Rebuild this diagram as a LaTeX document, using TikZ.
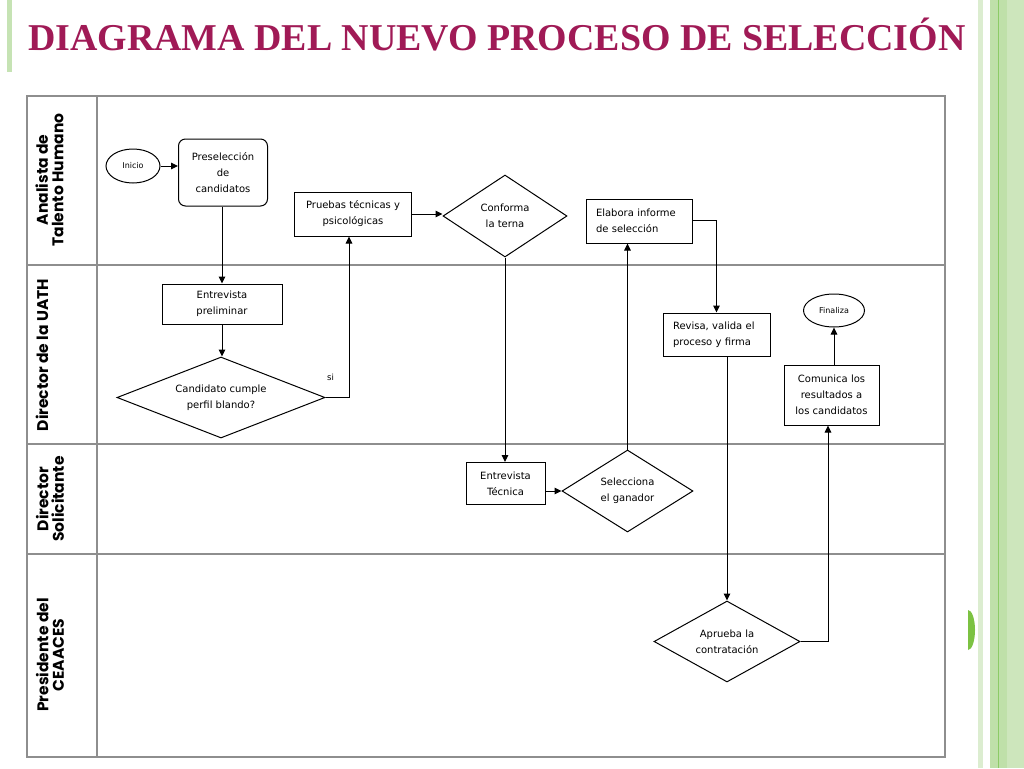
\documentclass[tikz,border=0pt]{standalone}
\usepackage{fontspec}
\setmainfont{DejaVu Sans}
\newfontfamily\lanefont{Poppins}
\newfontfamily\titlefont{Liberation Serif}
\usetikzlibrary{shapes.geometric,arrows.meta}
\definecolor{titlecol}{HTML}{A01A56}
\definecolor{gridcol}{HTML}{8E8E8E}
\definecolor{band}{HTML}{CDE6BC}
\definecolor{bandd}{HTML}{BFE0A9}
\definecolor{gline}{HTML}{8CCB66}
\definecolor{gdisc}{HTML}{7CC242}
\begin{document}
\begin{tikzpicture}[x=1pt,y=-1pt,
  txt/.style={font=\fontsize{10}{16}\selectfont, align=center, inner sep=0pt},
  procbox/.style={txt, draw=black, line width=1pt, fill=white},
  decision/.style={txt, diamond, draw=black, line width=1pt, fill=white},
  terminal/.style={ellipse, draw=black, line width=1pt, inner sep=0pt, font=\fontsize{8}{9}\selectfont},
  flow/.style={draw=black, line width=1pt, -{Triangle[length=7pt,width=6.5pt]}},
  lanelabel/.style={rotate=90, align=center, font=\lanefont\bfseries\fontsize{15.5}{15.5}\selectfont, inner sep=0pt},
  gridline/.style={draw=gridcol, line width=1.3pt}]
\useasboundingbox (0,0) rectangle (1024,768);
\fill[white] (0,0) rectangle (1024,768);
% decorations
\fill[band!70] (978,0) rectangle (983,768);
\fill[band] (990,0) rectangle (1024,768);
\fill[bandd] (990,0) rectangle (1007,768);
\draw[gline, line width=1pt] (998.5,0) -- (998.5,768);
\fill[band!90!gline] (7,0) rectangle (12,72);
\fill[gdisc] (968,650) arc[start angle=90, end angle=-90, x radius=7, y radius=20] -- cycle;
% title
\node[anchor=base west, inner sep=0pt, text=titlecol, font=\titlefont\bfseries\fontsize{37.9}{42}\selectfont] (title) at (28,50) {DIAGRAMA DEL NUEVO PROCESO DE SELECCIÓN};
% swimlane table
\draw[gridline] (27,96) rectangle (945,757);
\draw[gridline] (97,96) -- (97,757);
\draw[gridline] (27,265) -- (945,265);
\draw[gridline] (27,444) -- (945,444);
\draw[gridline] (27,554) -- (945,554);
\node[lanelabel] (l1) at (49.5,180) {Analista de\\Talento Humano};
\node[lanelabel] (l2) at (42,355) {Director de la UATH};
\node[lanelabel] (l3) at (50,499) {Director\\Solicitante};
\node[lanelabel] (l4) at (50,655) {Presidente del\\CEAACES};
% nodes
\node[terminal, minimum width=54pt, minimum height=34pt] (inicio) at (133,166) {Inicio};
\node[procbox, rounded corners=7pt, minimum width=89pt, minimum height=67pt] (presel) at (223,172.5) {Preselección\\de\\candidatos};
\node[procbox, minimum width=120pt, minimum height=40pt] (entprel) at (222,304) {Entrevista\\preliminar};
\node[decision, minimum width=208pt, minimum height=81pt, shape aspect=2.57] (cand) at (221,397.5) {Candidato cumple\\perfil blando?};
\node[procbox, minimum width=117pt, minimum height=44pt] (pruebas) at (353,214) {Pruebas técnicas y\\psicológicas};
\node[decision, minimum width=124pt, minimum height=82pt, shape aspect=1.5] (conforma) at (505,216) {Conforma\\la terna};
\node[procbox, minimum width=106pt, minimum height=44pt, align=left, text width=86pt] (elabora) at (639,221) {Elabora informe\\de selección};
\node[procbox, minimum width=107pt, minimum height=43pt, align=left, text width=87pt] (revisa) at (716.5,334.5) {Revisa, valida el\\proceso y firma};
\node[terminal, minimum width=61pt, minimum height=33pt] (fin) at (834,310.5) {Finaliza};
\node[procbox, minimum width=95pt, minimum height=60pt] (comunica) at (831.5,395) {Comunica los\\resultados a\\los candidatos};
\node[procbox, minimum width=79pt, minimum height=42pt] (enttec) at (505.5,483.5) {Entrevista\\Técnica};
\node[decision, minimum width=131pt, minimum height=82pt, shape aspect=1.6] (selec) at (627.5,491) {Selecciona\\el ganador};
\node[decision, minimum width=146pt, minimum height=81pt, shape aspect=1.8] (aprueba) at (727,641.5) {Aprueba la\\contratación};
% connectors
\draw[flow] (inicio.east) -- (inicio.east -| presel.west);
\draw[flow] (presel.south -| entprel.north) -- (entprel.north);
\draw[flow] (entprel.south) -- (entprel.south |- cand.north);
\draw[flow] (cand.east) -| ([xshift=-4pt]pruebas.south);
\node[txt, font=\fontsize{8.5}{9}\selectfont, anchor=base west] (si) at (327,380) {si};
\draw[flow] (pruebas.east) -- (pruebas.east -| conforma.west);
\draw[flow] (conforma.south) -- (conforma.south |- enttec.north);
\draw[flow] (enttec.east |- selec.west) -- (selec.west);
\draw[flow] (selec.north) -- (selec.north |- elabora.south);
\draw[flow] ([yshift=1pt]elabora.east) -| (revisa.north);
\draw[flow] (revisa.south -| aprueba.north) -- (aprueba.north);
\draw[flow] (aprueba.east) -| ([xshift=-3.5pt]comunica.south);
\draw[flow] (fin.south |- comunica.north) -- (fin.south);
\end{tikzpicture}
\end{document}
